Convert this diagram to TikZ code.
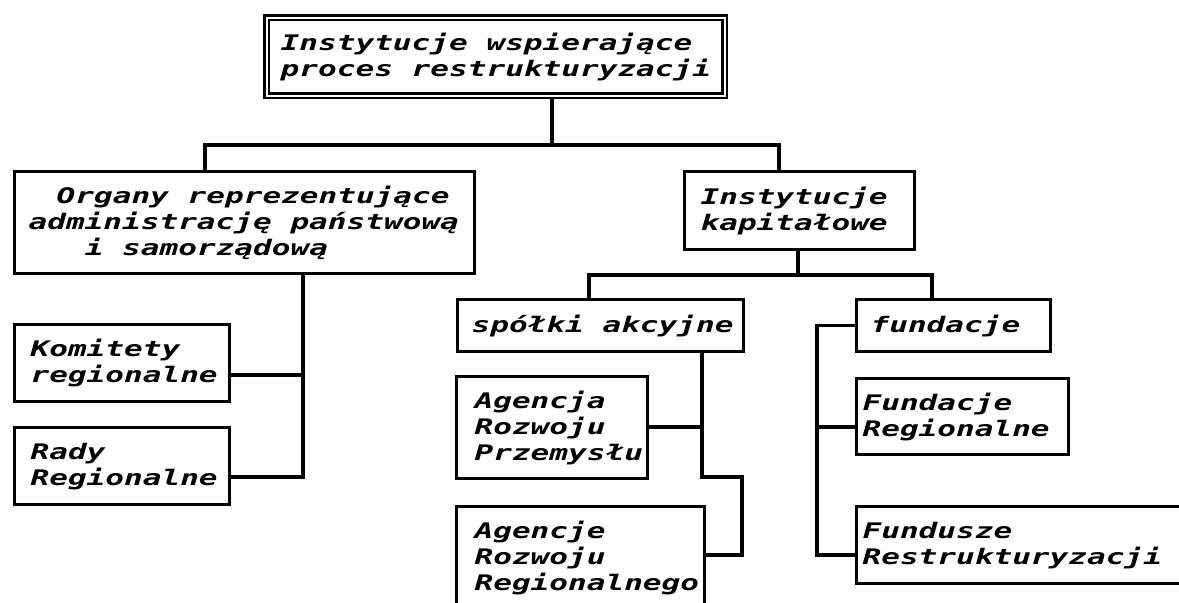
\documentclass[tikz,border=0pt]{standalone}
\usepackage{fontspec}
\newfontfamily\dosfont[FakeStretch=1.45]{DejaVu Sans Mono}
\newdimen\pxu \pxu=0.02cm
\tikzset{box/.style n args={3}{draw, line width=1.8pt, anchor=north west,
   minimum width=#1*0.02cm, minimum height=#2*0.02cm,
   inner xsep=0pt, inner ysep=0pt,
   text width=#1*0.02cm, align=left,
   font=\dosfont\bfseries\itshape\fontsize{12.2}{14.8}\selectfont,
   execute at begin node={\spaceskip=10.65pt\xspaceskip=10.65pt
     \leftskip=#3\pxu\hyphenpenalty=10000\relax}},
 link/.style={line width=1.8pt},
}

\begin{document}
\begin{tikzpicture}[x=0.02cm, y=-0.02cm]
        \useasboundingbox (0,0) rectangle (1179,602);
        % boxes
        \node[box={458}{78}{14}, double, double distance=1.2pt, line width=1.4pt] (top) at (265.5,16.5) {Instytucje wspierające\\proces restrukturyzacji};
        \node[box={460}{102}{14}] (org) at (13,170) {\hspace*{16pt}Organy reprezentujące\\administrację państwową\\\hspace*{32pt}i samorządową};
        \node[box={230}{78}{16}] (kap) at (683,170) {Instytucje\\kapitałowe};
        \node[box={215}{77}{16}] (kom) at (13,323) {Komitety\\regionalne};
        \node[box={215}{77}{16}] (rad) at (13,426) {Rady\\Regionalne};
        \node[box={286}{52}{14}] (spo) at (456,298) {spółki akcyjne};
        \node[box={191}{102}{18}] (arp) at (455,375) {Agencja\\Rozwoju\\Przemysłu};
        \node[box={248}{102}{18}] (arr) at (455,505) {Agencje\\Rozwoju\\Regionalnego};
        \node[box={194}{52}{14}] (fun) at (855,298) {fundacje};
        \node[box={212}{76}{6}] (fre) at (855,377) {Fundacje\\Regionalne};
        \node[box={360}{77}{6}] (frs) at (855,505) {Fundusze\\Restrukturyzacji};
        % junctions
        \coordinate (a0) at (552,145);
        \coordinate (a1) at (205,145);
        \coordinate (a2) at (779,145);
        \coordinate (b0) at (798,275);
        \coordinate (b1) at (589,275);
        \coordinate (b2) at (932,275);
        \coordinate (c0) at (303,375);
        \coordinate (c1) at (303,477);
        \coordinate (d0) at (702,427);
        \coordinate (d1) at (702,477);
        \coordinate (d2) at (742,477);
        \coordinate (d3) at (742,555);
        \coordinate (e1) at (817,427);
        \coordinate (e2) at (817,555);
        % connectors
        \draw[link] (top.south -| a0) -- (a0);
        \draw[link] (org.north -| a1) -- (a1) -- (a2) -- (kap.north -| a2);
        \draw[link] (kap.south -| b0) -- (b0);
        \draw[link] (spo.north -| b1) -- (b1) -- (b2) -- (fun.north -| b2);
        \draw[link] (org.south -| c0) -- (c1) -- (rad.east |- c1);
        \draw[link] (kom.east |- c0) -- (c0);
        \draw[link] (spo.south -| d0) -- (d1) -- (d2) -- (d3) -- (arr.east |- d3);
        \draw[link] (arp.east |- d0) -- (d0);
        \draw[link] (fun.west) -| (e2) -- (frs.west |- e2);
        \draw[link] (fre.west |- e1) -- (e1);
    \end{tikzpicture}
\end{document}
